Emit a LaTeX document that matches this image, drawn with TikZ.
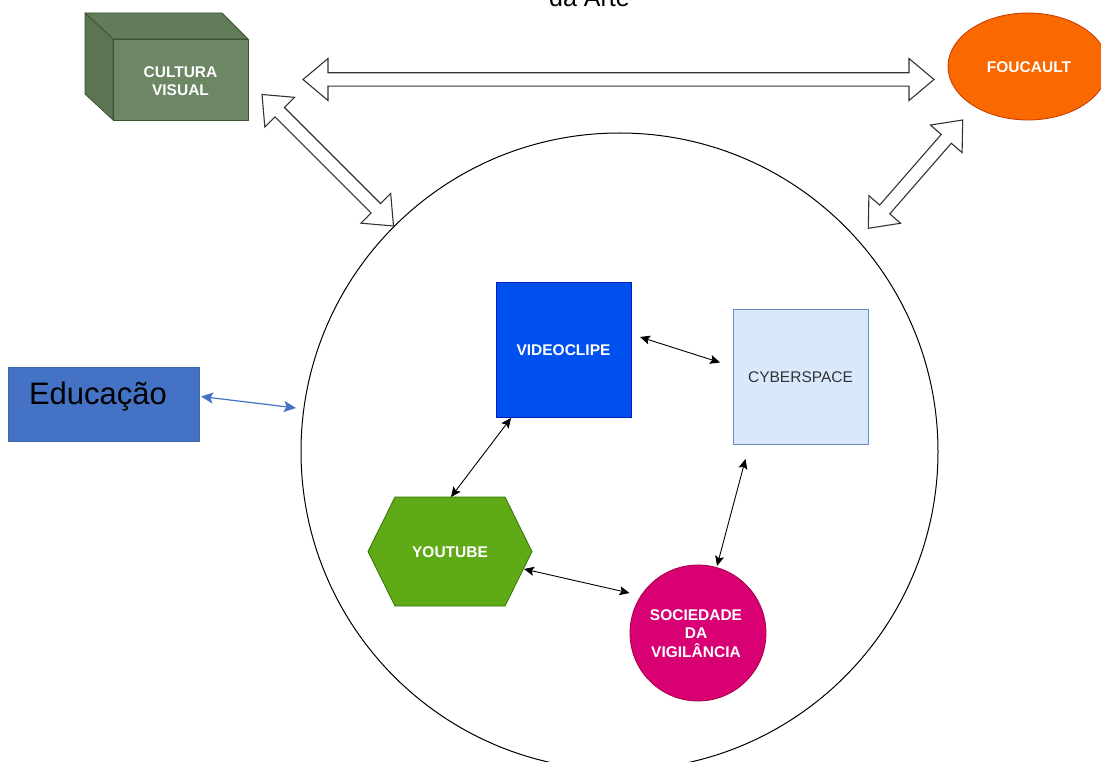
\documentclass[tikz,border=0pt]{standalone}
\usepackage{fontspec}
\setmainfont{Liberation Sans}
\usetikzlibrary{calc,arrows.meta,shapes.geometric}
\definecolor{cvfront}{HTML}{6D8764}
\definecolor{cvside}{HTML}{5B7452}
\definecolor{cvtop}{HTML}{627C5A}
\definecolor{cvstroke}{HTML}{3A5431}
\definecolor{fcfill}{HTML}{FA6800}
\definecolor{fcstroke}{HTML}{C73500}
\definecolor{edfill}{HTML}{4472C4}
\definecolor{vcfill}{HTML}{0050EF}
\definecolor{vcstroke}{HTML}{001DBC}
\definecolor{cyfill}{HTML}{DAE8FC}
\definecolor{cystroke}{HTML}{6C8EBF}
\definecolor{cytext}{HTML}{333333}
\definecolor{ytfill}{HTML}{60A917}
\definecolor{ytstroke}{HTML}{2D7600}
\definecolor{sdfill}{HTML}{D80073}
\definecolor{sdstroke}{HTML}{A50040}
\newcommand\flexarrow[2]{%
  \coordinate (#1h) at ($(#1)!25pt!(#2)$);
  \coordinate (#2h) at ($(#2)!25pt!(#1)$);
  \draw[flexline] (#1)
    -- ($(#1h)!21pt!90:(#2)$)
    -- ($(#1h)!6.7pt!90:(#2)$)
    -- ($(#2h)!6.7pt!-90:(#1)$)
    -- ($(#2h)!21pt!-90:(#1)$)
    -- (#2)
    -- ($(#2h)!21pt!90:(#1)$)
    -- ($(#2h)!6.7pt!90:(#1)$)
    -- ($(#1h)!6.7pt!-90:(#2)$)
    -- ($(#1h)!21pt!-90:(#2)$)
    -- cycle;}
\begin{document}
\begin{tikzpicture}[x=1pt,y=-1pt,
  lbl/.style={font=\bfseries\fontsize{15.5}{18.3}\selectfont, text=white, align=center, inner sep=0pt},
  conn/.style={{Stealth[length=10pt,width=9pt,inset=2pt]}-{Stealth[length=10pt,width=9pt,inset=2pt]}, line width=0.9pt, black},
  blueconn/.style={{Stealth[length=12pt,width=11pt,inset=2.5pt]}-{Stealth[length=12pt,width=11pt,inset=2.5pt]}, line width=1.2pt, edfill},
  flexline/.style={draw=black!80, fill=white, line width=1.1pt, line join=miter},
  box/.style={draw, line width=0.8pt, minimum width=135pt, minimum height=135pt, inner sep=0pt}
]
\clip (0,0) rectangle (1101,762);
\fill[white] (0,0) rectangle (1101,762);

% title fragment
\node[font=\fontsize{25}{28}\selectfont, anchor=base, inner sep=0pt] (title) at (589.5,7) {da Arte};

% big circle
\node[circle, draw=black, line width=1pt, minimum size=637pt, inner sep=0pt] (big) at (619.5,451.5) {};

% Cultura visual cube
\filldraw[fill=cvtop, draw=cvstroke, line width=0.8pt, line join=round] (85,13) -- (222,13) -- (248,39) -- (113,39) -- cycle;
\filldraw[fill=cvside, draw=cvstroke, line width=0.8pt, line join=round] (85,13) -- (113,39) -- (113,120) -- (85,94) -- cycle;
\filldraw[fill=cvfront, draw=cvstroke, line width=0.8pt] (113,39) rectangle (248,120);
\node[lbl] (cv) at (180.5,81) {CULTURA\\VISUAL};

% Foucault
\node[ellipse, fill=fcfill, draw=fcstroke, line width=0.8pt, minimum width=160pt, minimum height=107pt, inner sep=0pt] (fc) at (1028,66.5) {};
\node[lbl] (fct) at (1029,67) {FOUCAULT};

% hollow double arrows
\coordinate (hA) at (303,79.5);
\coordinate (hB) at (934,79.5);
\flexarrow{hA}{hB}
\coordinate (dA) at (262,94.5);
\coordinate (dB) at (393.5,226);
\flexarrow{dA}{dB}
\coordinate (eA) at (962.7,120);
\coordinate (eB) at (868.3,228.3);
\flexarrow{eA}{eB}

% Educacao
\node[fill=edfill, draw=edfill!90!black, line width=0.5pt, minimum width=191pt, minimum height=74pt, inner sep=0pt] (ed) at (103.5,404) {};
\node[font=\fontsize{31}{34}\selectfont, inner sep=0pt] (edt) at (98,397) {Educação};
\coordinate (edA) at (201,396.5);
\coordinate (edB) at (296,408);
\draw[blueconn] (edA) -- (edB);

% inner nodes
\node[box, fill=vcfill, draw=vcstroke] (vc) at (563.5,349.5) {};
\node[lbl] (vct) at (563.5,350) {VIDEOCLIPE};
\node[box, fill=cyfill, draw=cystroke] (cy) at (800.5,376.5) {};
\node[font=\fontsize{15.5}{18}\selectfont, text=cytext, inner sep=0pt] (cyt) at (800.5,377) {CYBERSPACE};
\filldraw[fill=ytfill, draw=ytstroke, line width=0.8pt] (368,551.5) -- (395,497) -- (505,497) -- (532,551.5) -- (505,606) -- (395,606) -- cycle;
\node[lbl] (yt) at (450,552) {YOUTUBE};
\node[circle, fill=sdfill, draw=sdstroke, line width=0.8pt, minimum size=136pt, inner sep=0pt] (sd) at (698,633) {};
\node[lbl] (sdt) at (696,633.5) {SOCIEDADE\\DA\\VIGILÂNCIA};

% thin connectors
\coordinate (c1a) at (640,337);
\coordinate (c1b) at (720,362.5);
\draw[conn] (c1a) -- (c1b);
\coordinate (c2a) at (511,418);
\coordinate (c2b) at (451,497);
\draw[conn] (c2a) -- (c2b);
\coordinate (c3a) at (745.5,459);
\coordinate (c3b) at (717,566);
\draw[conn] (c3a) -- (c3b);
\coordinate (c4a) at (524,569);
\coordinate (c4b) at (629.5,593);
\draw[conn] (c4a) -- (c4b);
\end{tikzpicture}
\end{document}
